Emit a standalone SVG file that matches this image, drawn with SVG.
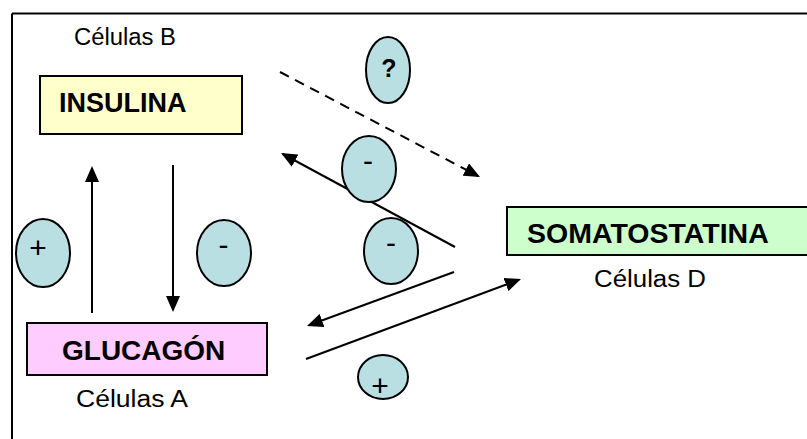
<svg xmlns="http://www.w3.org/2000/svg" width="807" height="439" viewBox="0 0 807 439">
  <style>
    .lbl { font-family: "Liberation Sans", Arial, sans-serif; fill: #000; }
    .cell { font-size: 23px; }
    .hormone { font-size: 28px; font-weight: bold; }
    .sign { font-size: 30px; }
    .box { stroke: #000; stroke-width: 2; }
    .bubble { fill: #b9dfe3; stroke: #000; stroke-width: 2; }
    .conn { stroke: #000; stroke-width: 2; fill: none; marker-end: url(#head); }
    .dashed { stroke-dasharray: 10 7; }
  </style>
  <defs>
    <marker id="head" markerUnits="userSpaceOnUse" markerWidth="16" markerHeight="14" refX="14" refY="7" orient="auto">
      <path d="M0,0 L16,7 L0,14 z" fill="#000"/>
    </marker>
  </defs>

  <rect width="807" height="439" fill="#fff"/>

  <!-- frame: top and left edges only -->
  <path d="M12,13.5 H807 M12,13.5 V439" stroke="#000" stroke-width="2" fill="none"/>

  <!-- connectors -->
  <g id="connectors">
    <line class="conn" x1="92" y1="313" x2="92" y2="168"/>
    <line class="conn" x1="173" y1="165" x2="173" y2="310"/>
    <line class="conn dashed" x1="280" y1="72" x2="478.2" y2="176.1"/>
    <line class="conn" x1="455" y1="247" x2="282.8" y2="154"/>
    <line class="conn" x1="454" y1="272" x2="308.9" y2="325.3"/>
    <line class="conn" x1="306" y1="359" x2="519.1" y2="279.7"/>
  </g>

  <!-- hormone nodes -->
  <g id="insulina">
    <text class="lbl cell" x="74" y="45" textLength="102" lengthAdjust="spacingAndGlyphs">Células B</text>
    <rect class="box" x="40" y="76" width="202" height="58" fill="#ffffcc"/>
    <text class="lbl hormone" x="59" y="112" style="font-size:27px">INSULINA</text>
  </g>

  <g id="glucagon">
    <rect class="box" x="27" y="323" width="240" height="52" fill="#ffccff"/>
    <text class="lbl hormone" x="62" y="360">GLUCAGÓN</text>
    <text class="lbl cell" x="76" y="407" textLength="112" lengthAdjust="spacingAndGlyphs">Células A</text>
  </g>

  <g id="somatostatina">
    <rect class="box" x="507" y="207" width="310" height="48" fill="#ccffcc"/>
    <text class="lbl hormone" x="527" y="243" style="font-size:28.5px">SOMATOSTATINA</text>
    <text class="lbl cell" x="594" y="287" textLength="112" lengthAdjust="spacingAndGlyphs">Células D</text>
  </g>

  <!-- effect bubbles -->
  <g id="efecto-desconocido">
    <ellipse class="bubble" cx="388" cy="70" rx="22" ry="33"/>
    <text class="lbl" x="389" y="77" text-anchor="middle" font-size="25" font-weight="bold">?</text>
  </g>
  <g id="inhibe-insulina">
    <ellipse class="bubble" cx="369" cy="169" rx="27" ry="33"/>
    <text class="lbl sign" x="368" y="171" text-anchor="middle">-</text>
  </g>
  <g id="inhibe-glucagon">
    <ellipse class="bubble" cx="391" cy="251" rx="27" ry="33"/>
    <text class="lbl sign" x="391" y="253" text-anchor="middle">-</text>
  </g>
  <g id="estimula-somatostatina">
    <ellipse class="bubble" cx="383" cy="377" rx="25" ry="22"/>
    <text class="lbl sign" x="380" y="396" text-anchor="middle">+</text>
  </g>
  <g id="estimula-insulina">
    <ellipse class="bubble" cx="43" cy="253" rx="27" ry="34"/>
    <text class="lbl sign" x="38" y="258" text-anchor="middle">+</text>
  </g>
  <g id="inhibe-glucagon-b">
    <ellipse class="bubble" cx="224" cy="253" rx="27" ry="33"/>
    <text class="lbl sign" x="223.5" y="255" text-anchor="middle">-</text>
  </g>
</svg>
